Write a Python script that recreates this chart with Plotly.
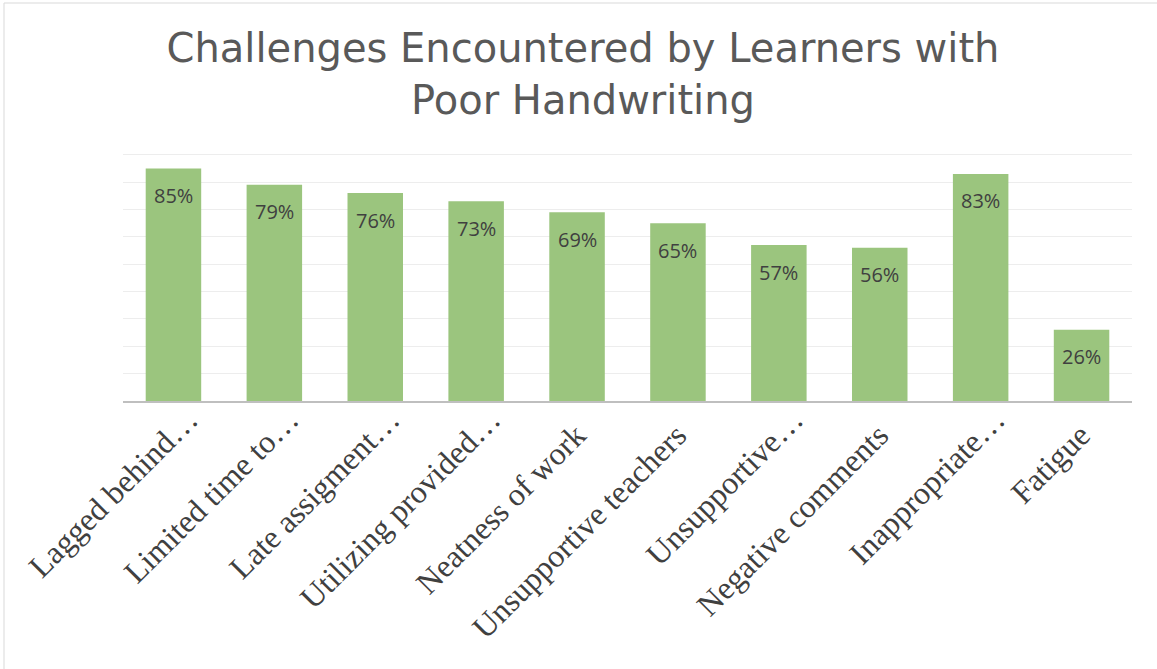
import plotly.graph_objects as go

categories = ["Lagged behind…", "Limited time to…", "Late assigment…", "Utilizing provided…",
              "Neatness of work", "Unsupportive teachers", "Unsupportive…",
              "Negative comments", "Inappropriate…", "Fatigue"]
values = [85, 79, 76, 73, 69, 65, 57, 56, 83, 26]
title_lines = ["Challenges Encountered by Learners with", "Poor Handwriting"]

W, H = 1157, 669
L, R, T, B = 123, 25, 152, 268
pw = W - L - R
ph = H - T - B

# labels without ellipsis get a trailing en-space so they sit like Excel's
tick_text = [c if c.endswith("…") else c + "\u2002\u2009" for c in categories]

fig = go.Figure(go.Bar(
    x=categories, y=values,
    marker=dict(color="#9BC57E", line=dict(width=0)),
    hoverinfo="x+y",
))

for c, v in zip(categories, values):
    fig.add_annotation(x=c, y=v, text=f"{v}%", showarrow=False, yanchor="middle",
                       yshift=-27, font=dict(family="Open Sans", size=20, color="#404040"))

title_font = dict(family="DejaVu Sans", size=40, color="#595959")
fig.add_annotation(text=title_lines[1], xref="paper", yref="paper",
                   x=(583 - L) / pw, y=(T + ph - 100) / ph, xanchor="center", yanchor="middle",
                   showarrow=False, font=title_font)

fig.update_layout(
    width=W, height=H,
    margin=dict(l=L, r=R, t=T, b=B),
    paper_bgcolor="white", plot_bgcolor="white",
    bargap=0.45,
    title=dict(text=title_lines[0],
               x=583 / W, xanchor="center", y=1 - 48 / H, yanchor="middle",
               font=title_font),
    showlegend=False,
    xaxis=dict(tickangle=-45, showline=True, linecolor="#BFBFBF", linewidth=2,
               ticks="", automargin=False, tickmode="array",
               tickvals=categories, ticktext=tick_text,
               tickfont=dict(family="Liberation Serif", size=32, color="#404040"),
               ticklabelshift=15, ticklabelstandoff=-15),
    yaxis=dict(range=[0, 91], tickvals=[10, 20, 30, 40, 50, 60, 70, 80, 90],
               showticklabels=False, showgrid=True,
               gridcolor="#EDEDED", gridwidth=1, zeroline=False, automargin=False),
)

fig.add_shape(type="rect", xref="paper", yref="paper",
              x0=(4 - L) / pw, x1=(W + 5 - L) / pw,
              y0=(T + ph - (H + 5)) / ph, y1=(T + ph - 3) / ph,
              line=dict(color="#D9D9D9", width=1), fillcolor="rgba(0,0,0,0)", layer="below")

fig.write_html("out.html", config={"displayModeBar": False},
               post_script="document.body.style.margin='0px';document.body.style.overflow='hidden';")
